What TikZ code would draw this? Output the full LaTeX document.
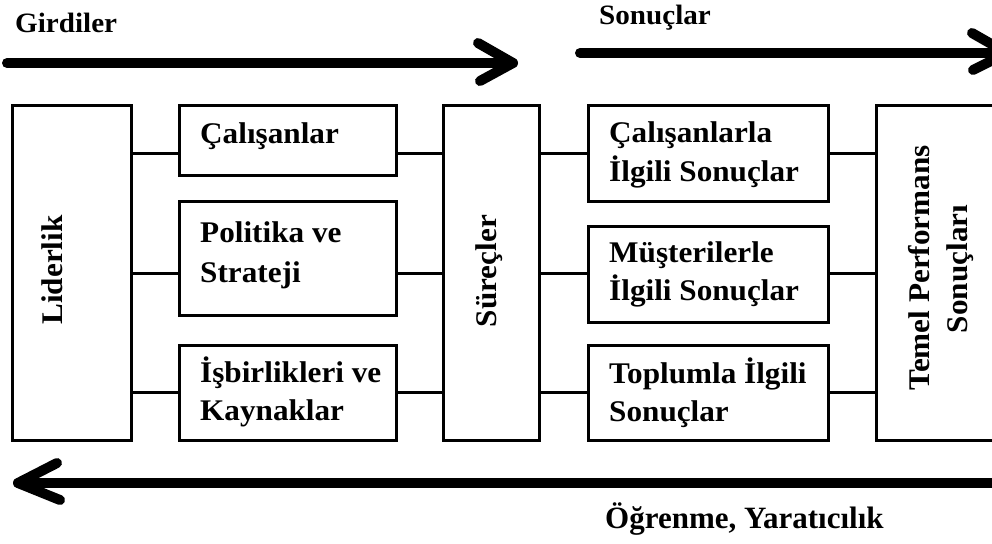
\documentclass[tikz,border=0pt]{standalone}
\usepackage{fontspec}
\newfontfamily\dfont{Liberation Serif}[FakeStretch=1.04]
\newfontfamily\efont{Liberation Serif}
\begin{document}
\begin{tikzpicture}[x=1pt,y=-1pt,
  box/.style={draw, line width=3pt, rectangle, inner sep=0pt, outer sep=0pt},
  link/.style={line width=3pt},
  flow/.style={line width=10pt, line cap=round, line join=round},
  lbl/.style={font=\dfont\bfseries\fontsize{30}{34}\selectfont, inner sep=0pt, anchor=base west},
  vlbl/.style={font=\dfont\bfseries\fontsize{30}{34}\selectfont, inner sep=0pt, rotate=90, anchor=base},
  head/.style={font=\dfont\bfseries\fontsize{28}{30}\selectfont, inner sep=0pt, anchor=base west},
  foot/.style={font=\efont\bfseries\fontsize{31}{33}\selectfont, inner sep=0pt, anchor=base west},
]
\clip (0,0) rectangle (992,543);
\fill[white] (0,0) rectangle (992,543);

% boxes
\node[box, minimum width=119, minimum height=335] (lid) at (71.5,272.5) {};
\node[box, minimum width=217, minimum height=70]  (cal) at (287.5,140) {};
\node[box, minimum width=217, minimum height=114] (pol) at (287.5,258) {};
\node[box, minimum width=217, minimum height=95]  (isb) at (287.5,392.5) {};
\node[box, minimum width=96,  minimum height=335] (sur) at (491,272.5) {};
\node[box, minimum width=240, minimum height=96]  (rcal) at (708,153) {};
\node[box, minimum width=240, minimum height=96]  (rmus) at (708,274) {};
\node[box, minimum width=240, minimum height=95]  (rtop) at (708,392.5) {};
\node[box, minimum width=134, minimum height=335] (tem) at (943,272.5) {};

% connector rows
\coordinate (r1) at (0,153);
\coordinate (r2) at (0,273);
\coordinate (r3) at (0,392);

\draw[link] (lid.east |- r1) -- (cal.west |- r1);
\draw[link] (lid.east |- r2) -- (pol.west |- r2);
\draw[link] (lid.east |- r3) -- (isb.west |- r3);
\draw[link] (cal.east |- r1) -- (sur.west |- r1);
\draw[link] (pol.east |- r2) -- (sur.west |- r2);
\draw[link] (isb.east |- r3) -- (sur.west |- r3);
\draw[link] (sur.east |- r1) -- (rcal.west |- r1);
\draw[link] (sur.east |- r2) -- (rmus.west |- r2);
\draw[link] (sur.east |- r3) -- (rtop.west |- r3);
\draw[link] (rcal.east |- r1) -- (tem.west |- r1);
\draw[link] (rmus.east |- r2) -- (tem.west |- r2);
\draw[link] (rtop.east |- r3) -- (tem.west |- r3);

% box texts
\node[lbl] (t1) at (200,143) {Çalışanlar};
\node[lbl] (t2a) at (200,242) {Politika ve};
\node[lbl] (t2b) at (200,282) {Strateji};
\node[lbl] (t3a) at (200,382) {İşbirlikleri ve};
\node[lbl] (t3b) at (200,420) {Kaynaklar};
\node[lbl] (t4a) at (609,142) {Çalışanlarla};
\node[lbl] (t4b) at (609,181) {İlgili Sonuçlar};
\node[lbl] (t5a) at (609,262) {Müşterilerle};
\node[lbl] (t5b) at (609,300) {İlgili Sonuçlar};
\node[lbl] (t6a) at (609,383) {Toplumla İlgili};
\node[lbl] (t6b) at (609,421) {Sonuçlar};

\node[vlbl] (v1) at (62,270) {Liderlik};
\node[vlbl] (v2) at (496,271) {Süreçler};
\node[vlbl] (v3) at (929,268) {Temel Performans};
\node[vlbl] (v4) at (967,269) {Sonuçları};

% flow arrows
\coordinate (inS) at (7,63);
\coordinate (inT) at (513,63);
\coordinate (inA) at (478,43);
\coordinate (inB) at (480,81);
\draw[flow] (inS) -- (inT);
\draw[flow] (inA) -- (inT) -- (inB);

\coordinate (outS) at (580,53);
\coordinate (outT) at (1007,53);
\coordinate (outA) at (972,33);
\coordinate (outB) at (973,70);
\draw[flow] (outS) -- (outT);
\draw[flow] (outA) -- (outT) -- (outB);

\coordinate (bkS) at (1005,483);
\coordinate (bkT) at (18,483);
\coordinate (bkA) at (57,463);
\coordinate (bkB) at (60,500);
\draw[flow] (bkS) -- (bkT);
\draw[flow] (bkA) -- (bkT) -- (bkB);

\node[head] (h1) at (15,33) {Girdiler};
\node[head] (h2) at (599,25) {Sonuçlar};
\node[foot] (h3) at (605,528) {Öğrenme, Yaratıcılık};
\end{tikzpicture}
\end{document}
